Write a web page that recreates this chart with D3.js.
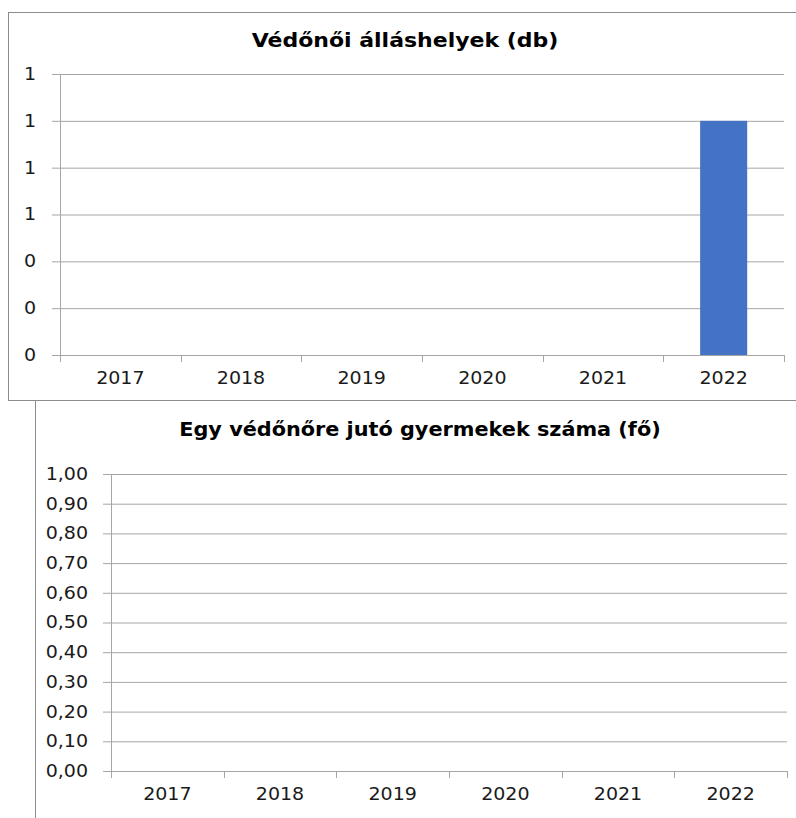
<!DOCTYPE html>
<html>
<head>
<meta charset="utf-8">
<script src="https://cdn.jsdelivr.net/npm/d3@7"></script>
<style>
  body { margin: 0; background: #fff; }
  svg { display: block; }
  text { font-family: "DejaVu Sans", sans-serif; }
</style>
</head>
<body>
<div id="container"></div>
<script>
// data
var years = ["2017", "2018", "2019", "2020", "2021", "2022"];
var allashelyek = [0, 0, 0, 0, 0, 1];
var gyermekek = [null, null, null, null, null, null];
var ticks1 = [0, 0.2, 0.4, 0.6, 0.8, 1.0, 1.2];
var ticks2 = [0, 0.1, 0.2, 0.3, 0.4, 0.5, 0.6, 0.7, 0.8, 0.9, 1.0];

const W = 796, H = 818;
const gridColor = "#a6a6a6";
const textColor = "#1a1a1a";
const stretch = 1.12; // source picture is a bit wider than tall

var hu = d3.formatLocale({decimal: ",", thousands: " ", grouping: [3], currency: ["", " Ft"]});

const svg = d3.select("#container").append("svg")
  .attr("width", W).attr("height", H);

// widen a text around its own x anchor
function widen(sel, s) {
  sel.attr("transform", function() {
    var x = +d3.select(this).attr("x") || 0;
    return "translate(" + (x * (1 - s)) + ",0) scale(" + s + ",1)";
  });
}

// frames
svg.append("rect")
  .attr("x", 8.5).attr("y", 12.5)
  .attr("width", W).attr("height", 388)
  .attr("fill", "none").attr("stroke", "#8c8c8c");
svg.append("line")
  .attr("x1", 35.5).attr("x2", 35.5).attr("y1", 400).attr("y2", H)
  .attr("stroke", "#8c8c8c");

function drawChart(opt) {
  var g = svg.append("g");
  var x = d3.scaleBand().domain(years).range([opt.left, opt.right])
    .paddingInner(0.61).paddingOuter(0.305);
  var xb = d3.scaleBand().domain(years).range([opt.left, opt.right]);
  var y = d3.scaleLinear().domain(opt.domain).range([opt.bottom, opt.top]);

  // title
  g.append("text")
    .attr("x", opt.titleX).attr("y", opt.titleY)
    .attr("text-anchor", "middle")
    .attr("font-size", 20).attr("font-weight", "bold")
    .attr("fill", "#000")
    .text(opt.title)
    .call(widen, opt.titleStretch);

  // y axis with gridlines
  var yAxis = d3.axisLeft(y).tickValues(opt.ticks).tickSize(8).tickFormat(opt.fmt);
  var ya = g.append("g")
    .attr("transform", "translate(" + opt.left + ",0)")
    .call(yAxis);
  ya.select(".domain").attr("stroke", gridColor);
  ya.selectAll(".tick line").attr("stroke", gridColor).attr("x1", opt.right - opt.left);
  ya.selectAll(".tick text")
    .attr("x", -opt.labelGap)
    .attr("font-size", 17).attr("fill", textColor)
    .attr("font-family", "DejaVu Sans")
    .call(widen, stretch);

  // bars
  g.selectAll("rect.bar")
    .data(opt.values.map((v, i) => ({year: years[i], v: v})).filter(d => d.v))
    .enter().append("rect")
    .attr("class", "bar")
    .attr("x", d => x(d.year))
    .attr("width", x.bandwidth())
    .attr("y", d => y(d.v))
    .attr("height", d => y(0) - y(d.v))
    .attr("fill", "#4472c4");

  // x axis
  var xAxis = d3.axisBottom(xb).tickSize(0).tickPadding(opt.xPad);
  var xa = g.append("g")
    .attr("transform", "translate(0," + opt.bottom + ")")
    .call(xAxis);
  xa.select(".domain").attr("stroke", gridColor);
  xa.selectAll(".tick text")
    .attr("font-size", 17).attr("fill", textColor)
    .attr("font-family", "DejaVu Sans")
    .call(widen, stretch);

  // category boundary tick marks
  var bounds = years.map(d => xb(d)).concat([xb.range()[1]]);
  g.selectAll("line.xtick")
    .data(bounds)
    .enter().append("line")
    .attr("class", "xtick")
    .attr("x1", d => Math.round(d) + 0.5).attr("x2", d => Math.round(d) + 0.5)
    .attr("y1", opt.bottom).attr("y2", opt.bottom + 7)
    .attr("stroke", gridColor);
}

drawChart({
  title: "Védőnői álláshelyek (db)",
  titleX: 405, titleY: 47, titleStretch: 1.1,
  left: 60, right: 784, top: 74, bottom: 355,
  domain: [0, 1.2], ticks: ticks1,
  fmt: d3.format(".0f"),
  values: allashelyek,
  labelGap: 24, xPad: 17
});

drawChart({
  title: "Egy védőnőre jutó gyermekek száma (fő)",
  titleX: 420, titleY: 436, titleStretch: 1.04,
  left: 111, right: 787, top: 474, bottom: 771,
  domain: [0, 1], ticks: ticks2,
  fmt: hu.format(".2f"),
  values: gyermekek,
  labelGap: 23, xPad: 17
});
</script>
</body>
</html>
